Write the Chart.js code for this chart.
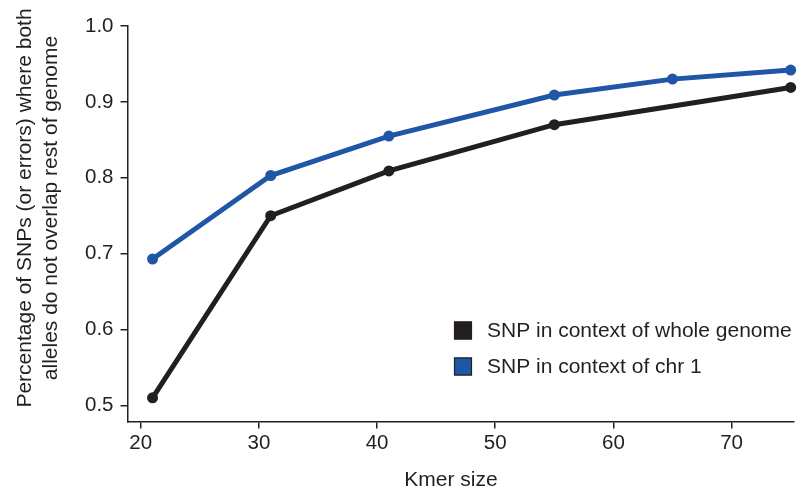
<!DOCTYPE html>
<html>
<head>
<meta charset="utf-8">
<script src="https://cdn.jsdelivr.net/npm/chart.js@4"></script>
<style>
  html, body { margin: 0; padding: 0; background: #fff; }
  #wrap { width: 799px; height: 498px; }
</style>
</head>
<body>
<div id="wrap"><canvas id="c" width="799" height="498"></canvas></div>
<script>
const X_WHOLE = [21, 31, 41, 55, 75];
const Y_WHOLE = [0.51, 0.75, 0.809, 0.87, 0.919];
const X_CHR1 = [21, 31, 41, 55, 65, 75];
const Y_CHR1 = [0.693, 0.803, 0.855, 0.909, 0.930, 0.942];
const X_TICKS = [20, 30, 40, 50, 60, 70];
const Y_TICKS = [0.5, 0.6, 0.7, 0.8, 0.9, 1.0];
const LABELS = ['SNP in context of whole genome', 'SNP in context of chr 1'];
const X_TITLE = 'Kmer size';
const Y_TITLE = ['Percentage of SNPs (or errors) where both', 'alleles do not overlap rest of genome'];

const BLACK = '#231f20';
const BLUE = '#1f56a6';
const FONT = "'Liberation Sans', Arial, sans-serif";
const FS = 20.5;

const insideLegend = {
  id: 'insideLegend',
  afterDraw(chart) {
    const ctx = chart.ctx;
    const ds = chart.data.datasets;
    ctx.save();
    ctx.font = '21px ' + FONT;
    ctx.textBaseline = 'middle';
    ds.forEach((d, i) => {
      const y = 330.5 + i * 36;
      const x = 454;
      ctx.fillStyle = d.borderColor;
      ctx.fillRect(x, y - 9, 18, 18);
      ctx.strokeStyle = BLACK;
      ctx.lineWidth = 1.2;
      ctx.strokeRect(x + 0.5, y - 8.5, 17, 17);
      ctx.fillStyle = BLACK;
      ctx.fillText(d.label, x + 33, y + 1);
    });
    ctx.restore();
  }
};

const axisTitles = {
  id: 'axisTitles',
  afterDraw(chart) {
    const ctx = chart.ctx;
    ctx.save();
    ctx.font = '21px ' + FONT;
    ctx.fillStyle = BLACK;
    ctx.textAlign = 'center';
    ctx.textBaseline = 'middle';
    ctx.fillText(X_TITLE, 451, 480);
    ctx.translate(0, 208);
    ctx.rotate(-Math.PI / 2);
    ctx.fillText(Y_TITLE[0], 0, 25);
    ctx.fillText(Y_TITLE[1], 0, 51);
    ctx.restore();
  }
};

new Chart(document.getElementById('c'), {
  type: 'line',
  data: {
    datasets: [
      {
        label: LABELS[0],
        data: X_WHOLE.map((x, i) => ({ x, y: Y_WHOLE[i] })),
        borderColor: BLACK, backgroundColor: BLACK,
        borderWidth: 5, pointRadius: 5.5, pointBorderWidth: 0,
        tension: 0, clip: false
      },
      {
        label: LABELS[1],
        data: X_CHR1.map((x, i) => ({ x, y: Y_CHR1[i] })),
        borderColor: BLUE, backgroundColor: BLUE,
        borderWidth: 5, pointRadius: 5.5, pointBorderWidth: 0,
        tension: 0, clip: false
      }
    ]
  },
  options: {
    responsive: false,
    animation: false,
    devicePixelRatio: 1,
    layout: { padding: { top: 26, right: 3, left: 78, bottom: 39 } },
    plugins: { legend: { display: false }, tooltip: { enabled: false } },
    scales: {
      x: {
        type: 'linear',
        min: 18.88, max: 75.24,
        afterBuildTicks(s) { s.ticks = X_TICKS.map(v => ({ value: v })); },
        grid: { display: true, drawOnChartArea: false, drawTicks: true, tickLength: 7, color: BLACK, lineWidth: 1.5 },
        border: { display: true, color: BLACK, width: 1.5 },
        ticks: { color: BLACK, font: { family: FONT, size: FS }, padding: 3, maxRotation: 0 },
        title: { display: false }
      },
      y: {
        min: 0.479, max: 1.0,
        afterBuildTicks(s) { s.ticks = Y_TICKS.map(v => ({ value: v })); },
        grid: { display: true, drawOnChartArea: false, drawTicks: true, tickLength: 7, color: BLACK, lineWidth: 1.5 },
        border: { display: true, color: BLACK, width: 1.5 },
        ticks: { color: BLACK, font: { family: FONT, size: FS }, padding: 7, callback: v => v.toFixed(1) },
        title: { display: false }
      }
    }
  },
  plugins: [insideLegend, axisTitles]
});
</script>
</body>
</html>
